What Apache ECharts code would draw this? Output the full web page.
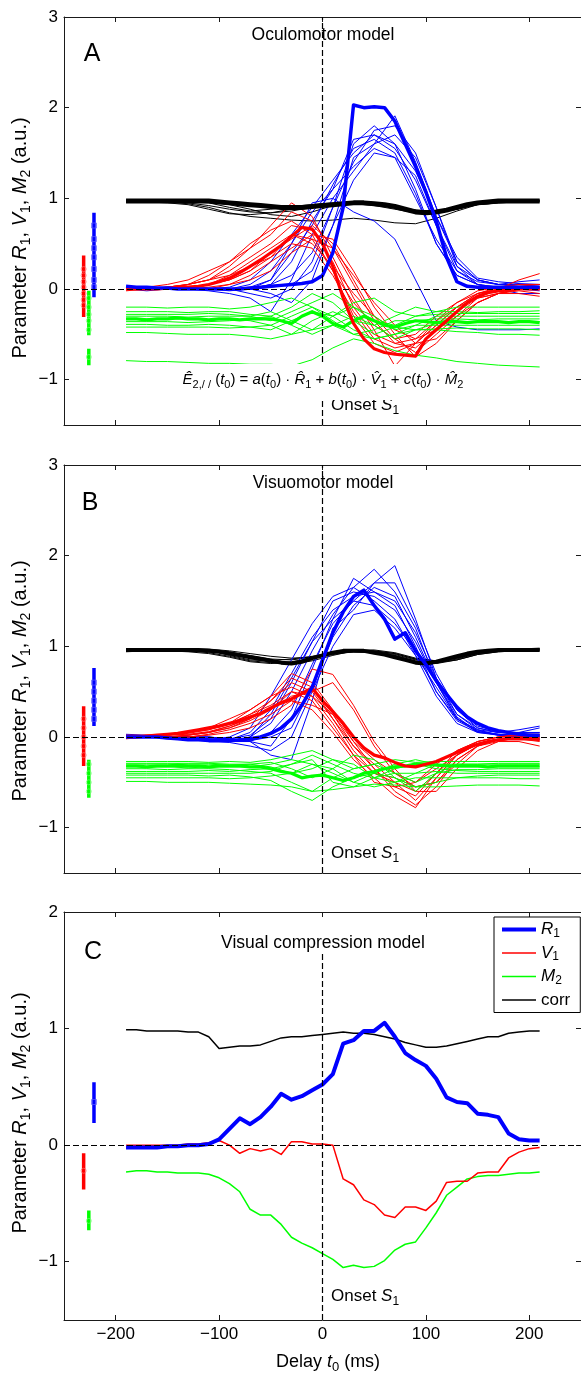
<!DOCTYPE html>
<html><head><meta charset="utf-8">
<script src="https://cdn.jsdelivr.net/npm/echarts@6/dist/echarts.min.js"></script>
<style>html,body{margin:0;padding:0;background:#fff}#c{width:581px;height:1374px}</style>
</head><body><div id="c"></div>
<script>
// ---------- shared x positions (ms) ----------
const T20 = [-190,-170,-150,-130,-110,-90,-70,-50,-30,-10,10,30,50,70,90,110,130,150,170,190,210];
const T10 = [-190,-180,-170,-160,-150,-140,-130,-120,-110,-100,-90,-80,-70,-60,-50,-40,-30,-20,-10,0,10,20,30,40,50,60,70,80,90,100,110,120,130,140,150,160,170,180,190,200,210];
const X_TICKS = [-200,-100,0,100,200];
const Y_TICKS_AB = [-1,0,1,2,3];
const Y_TICKS_C = [-1,0,1,2];

// ---------- Panel A : Oculomotor model ----------
const A_blueThin = [
 [0,0,0,0,0,0.02,0.1,0.3,0.6,0.9,1.2,1.5,1.7,1.6,1.1,0.5,0.15,0.05,0.02,0.01,0],
 [0.02,0,0,0,0,0,0.05,0.2,0.5,0.85,1.1,1.35,1.55,1.45,1.0,0.55,0.2,0.08,0.05,0.03,0.02],
 [0,0,0,0,0,0,0,0.05,0.15,0.4,0.9,1.4,1.75,1.8,1.5,0.9,0.3,0.1,0.05,0.05,0.03],
 [0,-0.02,0,0,-0.02,-0.05,-0.1,-0.25,0.1,0.6,1.0,1.3,1.6,1.91,1.4,0.8,0.3,0.1,0.05,0.05,0.05],
 [0.02,0,0,0,0,0,0,0.05,0.3,0.75,1.1,1.65,1.7,1.55,1.2,0.7,0.25,0.1,0.05,0.08,0.1],
 [0,0,0,0,0,0,-0.05,-0.1,0,0.3,0.9,1.6,1.8,1.6,1.3,0.8,0.35,0.12,0.08,0.06,0.05],
 [0,0,0,0,0,-0.02,0,0.1,0.5,0.95,1.0,0.85,0.75,0.55,0.1,-0.35,-0.42,-0.45,-0.45,-0.45,-0.44],
 [0,0,0,0,0,0,0,0.02,0.05,0.2,0.7,1.45,1.6,1.7,1.45,0.9,0.25,0.05,0,-0.05,-0.05],
 [0,0,0,0,0,0,0.02,0.1,0.4,0.7,1.15,1.55,1.65,1.5,1.05,0.5,0.15,0.05,0.02,0.02,0],
 [0,0,0,0,0,0,0,-0.05,-0.15,0.1,0.7,1.2,1.5,1.45,1.25,0.7,0.2,0.05,0,0,-0.02]
];
const A_redThin = [
 [0,0,0.02,0.05,0.1,0.2,0.35,0.5,0.7,0.65,0.3,-0.2,-0.5,-0.6,-0.55,-0.35,-0.2,-0.05,0.02,0.05,0.05],
 [0,0,0,0,0.05,0.15,0.3,0.45,0.6,0.55,0.2,-0.15,-0.4,-0.55,-0.5,-0.3,-0.15,-0.05,0,0.02,0.02],
 [0.02,0.02,0.05,0.1,0.2,0.3,0.45,0.6,0.85,0.75,0.45,0.05,-0.35,-0.6,-0.65,-0.45,-0.25,-0.1,0,0.1,0.17],
 [0,0,0,0.02,0.05,0.1,0.2,0.4,0.55,0.7,0.5,0.1,-0.3,-0.55,-0.7,-0.5,-0.3,-0.1,-0.05,-0.05,-0.08],
 [-0.02,0,0,0.05,0.1,0.15,0.25,0.35,0.5,0.45,0.15,-0.25,-0.55,-0.65,-0.6,-0.4,-0.2,-0.05,0,0,0],
 [0,0,0.02,0.05,0.1,0.25,0.45,0.7,0.95,0.8,0.35,-0.1,-0.45,-0.85,-0.6,-0.35,-0.15,-0.02,0.02,0.03,0.05],
 [0,0,0,0,0.02,0.05,0.15,0.3,0.45,0.6,0.55,0.2,-0.2,-0.5,-0.75,-0.6,-0.35,-0.15,-0.05,0,0.02],
 [0,0,0,0.02,0.05,0.1,0.2,0.35,0.6,0.5,0.25,-0.05,-0.3,-0.45,-0.55,-0.45,-0.3,-0.15,-0.05,-0.02,-0.05],
 [0.02,0,0.02,0.05,0.15,0.3,0.5,0.65,0.75,0.6,0.2,-0.3,-0.6,-0.7,-0.6,-0.4,-0.2,-0.1,-0.05,0,0.02],
 [0,0,0,0,0,0.05,0.1,0.2,0.4,0.55,0.45,0.15,-0.15,-0.4,-0.6,-0.55,-0.35,-0.15,-0.05,0,0]
];
const A_greenThin = [
 [-0.2,-0.2,-0.21,-0.2,-0.2,-0.22,-0.2,-0.15,-0.1,-0.2,-0.3,-0.15,-0.1,-0.25,-0.3,-0.25,-0.2,-0.2,-0.2,-0.2,-0.2],
 [-0.25,-0.25,-0.25,-0.26,-0.25,-0.25,-0.28,-0.3,-0.2,-0.05,-0.15,-0.35,-0.4,-0.3,-0.2,-0.25,-0.25,-0.26,-0.25,-0.25,-0.24],
 [-0.3,-0.3,-0.3,-0.31,-0.3,-0.3,-0.3,-0.25,-0.35,-0.45,-0.3,-0.2,-0.3,-0.45,-0.4,-0.3,-0.3,-0.3,-0.3,-0.3,-0.3],
 [-0.33,-0.33,-0.33,-0.33,-0.34,-0.33,-0.35,-0.4,-0.3,-0.2,-0.35,-0.5,-0.45,-0.35,-0.35,-0.33,-0.33,-0.34,-0.33,-0.33,-0.33],
 [-0.36,-0.36,-0.36,-0.37,-0.36,-0.35,-0.33,-0.3,-0.4,-0.5,-0.4,-0.3,-0.4,-0.55,-0.45,-0.38,-0.37,-0.36,-0.36,-0.36,-0.36],
 [-0.39,-0.39,-0.4,-0.4,-0.39,-0.4,-0.42,-0.45,-0.35,-0.25,-0.3,-0.45,-0.55,-0.5,-0.4,-0.4,-0.4,-0.4,-0.4,-0.4,-0.4],
 [-0.42,-0.42,-0.42,-0.42,-0.42,-0.43,-0.42,-0.4,-0.5,-0.35,-0.25,-0.35,-0.5,-0.42,-0.45,-0.44,-0.43,-0.44,-0.44,-0.44,-0.45],
 [-0.48,-0.48,-0.49,-0.5,-0.5,-0.5,-0.52,-0.55,-0.5,-0.45,-0.4,-0.5,-0.55,-0.5,-0.45,-0.45,-0.47,-0.48,-0.5,-0.5,-0.51],
 [-0.79,-0.8,-0.8,-0.81,-0.82,-0.82,-0.83,-0.83,-0.85,-0.78,-0.65,-0.55,-0.6,-0.68,-0.73,-0.76,-0.8,-0.82,-0.84,-0.85,-0.86],
 [-0.28,-0.28,-0.28,-0.28,-0.27,-0.28,-0.3,-0.35,-0.25,-0.15,-0.05,-0.2,-0.35,-0.4,-0.3,-0.28,-0.27,-0.27,-0.27,-0.27,-0.27]
];
const A_blackThin = [
 [0.97,0.97,0.96,0.95,0.92,0.88,0.85,0.84,0.86,0.9,0.93,0.94,0.93,0.9,0.86,0.85,0.9,0.95,0.96,0.97,0.97],
 [0.98,0.98,0.97,0.97,0.96,0.93,0.88,0.82,0.8,0.85,0.92,0.95,0.93,0.9,0.86,0.84,0.88,0.94,0.96,0.97,0.98],
 [0.96,0.96,0.96,0.94,0.9,0.84,0.8,0.78,0.76,0.75,0.76,0.78,0.76,0.73,0.72,0.78,0.86,0.93,0.95,0.96,0.96],
 [0.97,0.97,0.97,0.96,0.95,0.9,0.86,0.88,0.91,0.93,0.95,0.95,0.94,0.91,0.87,0.86,0.89,0.94,0.96,0.97,0.97],
 [0.96,0.96,0.95,0.93,0.88,0.83,0.82,0.84,0.88,0.92,0.94,0.94,0.92,0.88,0.84,0.84,0.88,0.93,0.95,0.96,0.97],
 [0.98,0.98,0.98,0.97,0.97,0.95,0.92,0.9,0.9,0.91,0.93,0.95,0.94,0.91,0.87,0.85,0.88,0.94,0.97,0.98,0.98]
];
const A_blueThick = [0.03,0.02,0.02,0.01,0.01,0,0,0,0,0, 0,0,0.01,0.02,0.03,0.04,0.05,0.06,0.08,0.15, 0.4,0.9,2.03,2.0,2.01,2.0,1.85,1.6,1.35,1.07, 0.75,0.35,0.08,0.03,0.02,0.02,0.02,0.02,0.02,0.02,0.02];
const A_redThick = [0,0,0,0,0.01,0.02,0.02,0.03,0.05,0.08, 0.12,0.18,0.25,0.32,0.4,0.48,0.58,0.68,0.66,0.5, 0.25,-0.1,-0.38,-0.55,-0.66,-0.7,-0.72,-0.73,-0.74,-0.55, -0.45,-0.35,-0.25,-0.15,-0.08,-0.04,-0.02,-0.01,0,0,0];
const A_greenThick = [-0.33,-0.33,-0.34,-0.33,-0.33,-0.32,-0.33,-0.33,-0.34,-0.33, -0.33,-0.34,-0.33,-0.33,-0.33,-0.35,-0.38,-0.3,-0.25,-0.3, -0.38,-0.42,-0.35,-0.3,-0.35,-0.4,-0.42,-0.38,-0.35,-0.36, -0.37,-0.36,-0.36,-0.37,-0.36,-0.36,-0.36,-0.37,-0.36,-0.36,-0.37];
const A_blackThick = [0.97,0.97,0.97,0.97,0.97,0.97,0.97,0.97,0.97,0.96, 0.95,0.94,0.93,0.92,0.91,0.9,0.9,0.9,0.91,0.92, 0.93,0.94,0.95,0.95,0.94,0.93,0.91,0.88,0.85,0.84, 0.85,0.87,0.9,0.93,0.95,0.96,0.97,0.97,0.97,0.97,0.97];

// ---------- Panel B : Visuomotor model ----------
const B_blueThin = [
 [0,0,0,0,-0.02,-0.03,0.05,0.3,0.7,1.1,1.4,1.55,1.6,1.45,1.0,0.5,0.2,0.05,0.02,0,0],
 [0.02,0,0,-0.02,-0.03,-0.05,0,0.15,0.5,0.95,1.35,1.65,1.85,1.6,1.2,0.6,0.25,0.1,0.05,0.05,0.05],
 [0,0,0,0,0,-0.02,-0.05,-0.2,-0.25,0.4,1.2,1.4,1.7,1.89,1.3,0.65,0.25,0.08,0.02,0,-0.02],
 [0,0,-0.02,-0.03,-0.03,0,0.1,0.45,0.85,1.25,1.55,1.65,1.5,1.3,0.9,0.45,0.15,0.05,0.03,0.02,0.02],
 [0.02,0,0,0,-0.02,-0.05,-0.05,0.05,0.3,0.8,1.25,1.5,1.7,1.7,1.25,0.7,0.3,0.1,0.05,0.05,0.1],
 [0,0,0,-0.02,-0.04,-0.06,-0.1,-0.15,0,0.5,1.0,1.35,1.4,1.2,0.9,0.55,0.2,0.08,0.05,0.08,0.12],
 [0,0,0,0,-0.02,-0.02,0.02,0.2,0.6,1.05,1.5,1.6,1.55,1.4,1.05,0.6,0.22,0.06,0.02,0,-0.03],
 [0,0,0,0,0,-0.03,-0.05,-0.1,0.2,0.75,1.3,1.75,1.6,1.5,1.15,0.65,0.3,0.12,0.06,0.04,0.05],
 [0,0,0,0,-0.03,-0.05,0,0.25,0.65,1.05,1.3,1.5,1.45,1.25,0.95,0.5,0.18,0.06,0.03,0.03,0.03],
 [0.03,0.02,0,0,0,-0.02,-0.04,0,0.1,0.55,1.1,1.45,1.65,1.55,1.1,0.6,0.2,0.07,0.03,0.01,0]
];
const B_redThin = [
 [0,0,0.02,0.05,0.1,0.15,0.25,0.35,0.5,0.4,0.1,-0.2,-0.4,-0.5,-0.6,-0.4,-0.2,-0.05,0,0.02,0.02],
 [-0.02,0,0,0.02,0.05,0.1,0.2,0.4,0.65,0.55,0.2,-0.1,-0.3,-0.5,-0.7,-0.45,-0.2,-0.08,-0.03,-0.02,-0.05],
 [0,0,0,0.02,0.05,0.12,0.22,0.3,0.45,0.5,0.6,0.3,-0.1,-0.4,-0.55,-0.5,-0.3,-0.1,-0.03,0,0.02],
 [0,0.02,0.03,0.05,0.08,0.15,0.3,0.45,0.7,0.6,0.3,-0.05,-0.35,-0.55,-0.65,-0.4,-0.15,-0.05,0,0,-0.02],
 [0,0,0,0,0.03,0.08,0.15,0.25,0.4,0.35,0.25,-0.1,-0.35,-0.6,-0.75,-0.55,-0.25,-0.1,-0.05,-0.05,-0.1],
 [0.02,0.02,0.03,0.05,0.1,0.2,0.3,0.45,0.55,0.45,0.15,-0.2,-0.5,-0.55,-0.5,-0.3,-0.15,-0.05,0,0.03,0.03],
 [0,0,0,0,0.02,0.05,0.1,0.2,0.35,0.75,0.69,0.35,-0.05,-0.35,-0.6,-0.6,-0.35,-0.15,-0.05,0,0],
 [0,0,0.02,0.03,0.06,0.12,0.2,0.32,0.4,0.3,0.05,-0.25,-0.45,-0.65,-0.78,-0.45,-0.2,-0.08,-0.03,-0.02,-0.04],
 [0,0,0,0.02,0.05,0.1,0.18,0.3,0.5,0.45,0.25,-0.05,-0.25,-0.4,-0.5,-0.35,-0.2,-0.07,-0.02,0,0.01],
 [0.01,0.01,0.02,0.04,0.08,0.14,0.25,0.4,0.6,0.5,0.2,-0.15,-0.4,-0.45,-0.55,-0.5,-0.25,-0.1,-0.03,-0.01,-0.03]
];
const B_greenThin = [
 [-0.27,-0.27,-0.27,-0.27,-0.28,-0.27,-0.28,-0.25,-0.2,-0.15,-0.25,-0.35,-0.3,-0.25,-0.28,-0.27,-0.27,-0.27,-0.27,-0.27,-0.27],
 [-0.3,-0.3,-0.3,-0.3,-0.3,-0.31,-0.3,-0.33,-0.4,-0.35,-0.25,-0.3,-0.45,-0.5,-0.4,-0.3,-0.3,-0.3,-0.3,-0.3,-0.3],
 [-0.33,-0.33,-0.33,-0.34,-0.33,-0.33,-0.33,-0.3,-0.25,-0.3,-0.4,-0.5,-0.4,-0.3,-0.25,-0.3,-0.33,-0.33,-0.33,-0.33,-0.33],
 [-0.35,-0.35,-0.36,-0.35,-0.35,-0.36,-0.38,-0.4,-0.5,-0.6,-0.45,-0.35,-0.3,-0.4,-0.5,-0.4,-0.36,-0.36,-0.35,-0.35,-0.35],
 [-0.38,-0.38,-0.38,-0.38,-0.37,-0.38,-0.36,-0.35,-0.3,-0.2,-0.3,-0.4,-0.45,-0.35,-0.3,-0.35,-0.37,-0.38,-0.38,-0.38,-0.38],
 [-0.42,-0.42,-0.42,-0.42,-0.43,-0.42,-0.44,-0.48,-0.6,-0.7,-0.55,-0.45,-0.4,-0.45,-0.55,-0.5,-0.45,-0.43,-0.42,-0.42,-0.42],
 [-0.45,-0.45,-0.45,-0.45,-0.45,-0.46,-0.45,-0.43,-0.4,-0.3,-0.35,-0.5,-0.55,-0.5,-0.45,-0.45,-0.45,-0.45,-0.45,-0.46,-0.46],
 [-0.49,-0.49,-0.5,-0.5,-0.5,-0.51,-0.52,-0.53,-0.55,-0.6,-0.58,-0.55,-0.52,-0.53,-0.55,-0.55,-0.54,-0.53,-0.53,-0.53,-0.54],
 [-0.29,-0.29,-0.29,-0.29,-0.29,-0.3,-0.3,-0.28,-0.35,-0.45,-0.35,-0.2,-0.25,-0.45,-0.6,-0.4,-0.3,-0.3,-0.29,-0.29,-0.29],
 [-0.4,-0.4,-0.4,-0.4,-0.4,-0.4,-0.4,-0.38,-0.3,-0.25,-0.5,-0.55,-0.45,-0.4,-0.4,-0.38,-0.4,-0.4,-0.4,-0.4,-0.4]
];
const B_blackThin = [
 [0.96,0.96,0.96,0.96,0.95,0.92,0.88,0.84,0.82,0.86,0.92,0.96,0.95,0.92,0.86,0.84,0.88,0.93,0.95,0.96,0.96],
 [0.97,0.97,0.97,0.96,0.96,0.94,0.9,0.86,0.85,0.88,0.92,0.94,0.93,0.9,0.84,0.82,0.86,0.92,0.95,0.97,0.97],
 [0.95,0.95,0.95,0.95,0.93,0.89,0.84,0.82,0.8,0.84,0.9,0.95,0.95,0.92,0.86,0.82,0.85,0.91,0.94,0.95,0.95],
 [0.96,0.96,0.96,0.96,0.96,0.9,0.85,0.84,0.86,0.89,0.93,0.95,0.94,0.91,0.85,0.83,0.87,0.92,0.95,0.96,0.97],
 [0.94,0.95,0.95,0.94,0.92,0.88,0.83,0.81,0.83,0.87,0.91,0.94,0.93,0.89,0.83,0.81,0.85,0.91,0.94,0.95,0.96],
 [0.97,0.97,0.97,0.97,0.97,0.95,0.92,0.89,0.87,0.88,0.93,0.96,0.96,0.93,0.87,0.84,0.87,0.93,0.96,0.97,0.98]
];
const B_blueThick = [0,0,0,0,-0.01,-0.02,-0.03,-0.03,-0.04,-0.04, -0.04,-0.03,-0.02,0,0.04,0.1,0.2,0.35,0.55,0.85, 1.15,1.38,1.55,1.62,1.45,1.3,1.08,1.15,0.95,0.8, 0.62,0.47,0.33,0.22,0.15,0.1,0.07,0.05,0.03,0.02,0.02];
const B_redThick = [0,0,0.01,0.02,0.03,0.04,0.06,0.08,0.1,0.12, 0.15,0.18,0.22,0.26,0.32,0.38,0.42,0.48,0.54,0.4, 0.28,0.15,0,-0.12,-0.2,-0.23,-0.28,-0.32,-0.33,-0.3, -0.27,-0.22,-0.17,-0.12,-0.08,-0.05,-0.03,-0.02,-0.02,-0.02,-0.02];
const B_greenThick = [-0.32,-0.32,-0.33,-0.32,-0.32,-0.31,-0.32,-0.32,-0.33,-0.32, -0.32,-0.32,-0.33,-0.33,-0.35,-0.38,-0.4,-0.45,-0.43,-0.42, -0.45,-0.48,-0.45,-0.4,-0.38,-0.35,-0.33,-0.32,-0.3,-0.3, -0.31,-0.32,-0.32,-0.32,-0.32,-0.33,-0.32,-0.32,-0.32,-0.32,-0.32];
const B_blackThick = [0.96,0.96,0.96,0.96,0.96,0.96,0.96,0.96,0.95,0.94, 0.92,0.9,0.88,0.86,0.84,0.82,0.81,0.83,0.87,0.9, 0.93,0.95,0.95,0.95,0.93,0.91,0.88,0.85,0.82,0.81, 0.83,0.86,0.89,0.92,0.94,0.95,0.96,0.96,0.96,0.96,0.96];

// ---------- Panel C : Visual compression model ----------
const C_R1 = [-0.02,-0.02,-0.02,-0.02,-0.01,-0.01,0,0,0.01,0.05, 0.14,0.23,0.18,0.24,0.33,0.44,0.39,0.42,0.47,0.52, 0.61,0.87,0.9,0.98,0.98,1.05,0.93,0.79,0.73,0.68, 0.57,0.41,0.37,0.36,0.27,0.26,0.24,0.1,0.05,0.04,0.04];
const C_V1 = [0,0,0,0,0,0,0.01,0.01,0.02,0.04, 0,-0.07,-0.03,-0.05,-0.03,-0.08,0.03,0.03,0.01,0.01, 0,-0.29,-0.34,-0.47,-0.51,-0.6,-0.62,-0.53,-0.53,-0.56, -0.48,-0.32,-0.31,-0.31,-0.24,-0.23,-0.23,-0.11,-0.06,-0.03,-0.02];
const C_M2 = [-0.23,-0.22,-0.22,-0.23,-0.23,-0.24,-0.24,-0.24,-0.25,-0.28, -0.33,-0.4,-0.55,-0.6,-0.6,-0.68,-0.79,-0.84,-0.88,-0.93, -0.98,-1.05,-1.03,-1.05,-1.04,-0.99,-0.9,-0.85,-0.83,-0.71, -0.58,-0.43,-0.36,-0.29,-0.27,-0.26,-0.26,-0.25,-0.24,-0.24,-0.23];
const C_corr = [0.99,0.99,0.98,0.98,0.98,0.98,0.97,0.97,0.93,0.83, 0.84,0.85,0.85,0.86,0.89,0.92,0.93,0.93,0.94,0.95, 0.96,0.97,0.96,0.96,0.95,0.93,0.91,0.88,0.86,0.84, 0.84,0.85,0.87,0.89,0.91,0.93,0.93,0.96,0.97,0.98,0.98];

// ---------- error bars at the left (x position in ms, [low, high] segments, markers) ----------
const EB_X = {red: -231, green: -226, blue: -221};
const A_eb = {red: [[-0.31,0.37]], green: [[-0.51,-0.02],[-0.84,-0.66]], blue: [[-0.09,0.84]]};
const A_mk = {red: [0.22,0.15,0.08,0.02,-0.05,-0.12,-0.18], green: [-0.1,-0.2,-0.28,-0.35,-0.45,-0.75], blue: [0.7,0.55,0.45,0.35,0.22,0.1,0.02]};
const B_eb = {red: [[-0.32,0.34]], green: [[-0.67,-0.25]], blue: [[0.12,0.76]]};
const B_mk = {red: [0.2,0.1,0,-0.1,-0.2], green: [-0.3,-0.4,-0.5,-0.6], blue: [0.6,0.5,0.4,0.3,0.2]};
const C_eb = {red: [[-0.38,-0.07]], green: [[-0.73,-0.56]], blue: [[0.19,0.54]]};
const C_mk = {red: [-0.22], green: [-0.65], blue: [0.37]};

// ---------- styling / layout ----------
const FONT = '"Liberation Sans", Arial, Helvetica, sans-serif';
const COL = {blue: '#0000ff', red: '#ff0000', green: '#00ff00', black: '#000000'};
const MK_COL = {blue: 'rgba(90,90,255,0.9)', red: 'rgba(255,110,110,0.9)', green: 'rgba(110,255,110,0.9)'};
const GRID_TOPS = [17, 465, 912];
const Y_RANGE = [[-1.5,3],[-1.5,3],[-1.5,2]];
const Y_TICKS = [Y_TICKS_AB, Y_TICKS_AB, Y_TICKS_C];
const AX = '#1a1a1a';
const fmt = v => (v < 0 ? '\u2212' + Math.abs(v) : String(v));

const grid = GRID_TOPS.map(t => ({left: 64, top: t, width: 520, height: 408}));
const xAxis = [], yAxis = [];
for (let g = 0; g < 3; g++) {
  xAxis.push({gridIndex: g, type: 'value', min: -250, max: 250, position: 'bottom',
    axisLine: {show: true, onZero: false, lineStyle: {color: AX, width: 1}},
    axisTick: {show: true, inside: true, length: 5, customValues: X_TICKS, lineStyle: {color: AX}},
    axisLabel: {show: g === 2, customValues: X_TICKS, formatter: fmt, fontSize: 17, color: '#000', margin: 6, fontFamily: FONT},
    splitLine: {show: false}});
  yAxis.push({gridIndex: g, type: 'value', min: Y_RANGE[g][0], max: Y_RANGE[g][1], position: 'left',
    axisLine: {show: true, onZero: false, lineStyle: {color: AX, width: 1}},
    axisTick: {show: true, inside: true, length: 5, customValues: Y_TICKS[g], lineStyle: {color: AX}},
    axisLabel: {show: true, customValues: Y_TICKS[g], formatter: fmt, fontSize: 17, color: '#000', margin: 6, fontFamily: FONT},
    splitLine: {show: false}});
}
for (let g = 0; g < 3; g++) {
  xAxis.push({gridIndex: g, type: 'value', min: -250, max: 250, position: 'top',
    axisLine: {show: true, onZero: false, lineStyle: {color: AX, width: 1}},
    axisTick: {show: true, inside: true, length: 5, customValues: X_TICKS, lineStyle: {color: AX}},
    axisLabel: {show: false}, splitLine: {show: false}});
  yAxis.push({gridIndex: g, type: 'value', min: Y_RANGE[g][0], max: Y_RANGE[g][1], position: 'right',
    axisLine: {show: true, onZero: false, lineStyle: {color: AX, width: 1}},
    axisTick: {show: true, inside: true, length: 5, customValues: Y_TICKS[g], lineStyle: {color: AX}},
    axisLabel: {show: false}, splitLine: {show: false}});
}

const series = [];
function line(g, xs, ys, color, width, z, name) {
  const s = {type: 'line', xAxisIndex: g, yAxisIndex: g, data: xs.map((x, i) => [x, ys[i]]),
    symbol: 'none', showSymbol: false, lineStyle: {color: color, width: width, join: 'round'},
    itemStyle: {color: color}, silent: true, animation: false, z: z};
  if (name) s.name = name;
  series.push(s);
}
function errorBars(g, eb, mk) {
  ['red', 'green', 'blue'].forEach(c => {
    eb[c].forEach(seg => line(g, [EB_X[c], EB_X[c]], seg, COL[c], 3.5, 3));
    series.push({type: 'scatter', xAxisIndex: g, yAxisIndex: g, silent: true, animation: false, z: 4,
      symbol: c === 'blue' ? 'rect' : 'circle', symbolSize: 5,
      data: mk[c].map(v => [EB_X[c], v]),
      itemStyle: {color: 'rgba(255,255,255,0)', borderColor: MK_COL[c], borderWidth: 1}});
  });
}
function refLines(g, vData) {
  series.push({type: 'line', xAxisIndex: g, yAxisIndex: g, data: [], silent: true, animation: false, z: 6,
    markLine: {silent: true, symbol: ['none', 'none'], animation: false, label: {show: false},
      lineStyle: {color: '#000', width: 1.2, type: [6, 3]},
      data: [{yAxis: 0}, vData]}});
}
function bundle(g, blueT, redT, greenT, blackT, blueK, redK, greenK, blackK, kWidth) {
  blackT.forEach(a => line(g, T20, a, COL.black, 1, 2));
  blueT.forEach(a => line(g, T20, a, COL.blue, 1, 2));
  redT.forEach(a => line(g, T20, a, COL.red, 1, 2));
  greenT.forEach(a => line(g, T20, a, COL.green, 1, 2));
  line(g, T10, blackK, COL.black, kWidth, 3);
  line(g, T10, greenK, COL.green, 3.2, 3);
  line(g, T10, redK, COL.red, 3.2, 3);
  line(g, T10, blueK, COL.blue, 3.5, 3);
}
bundle(0, A_blueThin, A_redThin, A_greenThin, A_blackThin, A_blueThick, A_redThick, A_greenThick, A_blackThick, 5);
errorBars(0, A_eb, A_mk);
refLines(0, {xAxis: 0});
bundle(1, B_blueThin, B_redThin, B_greenThin, B_blackThin, B_blueThick, B_redThick, B_greenThick, B_blackThick, 4);
errorBars(1, B_eb, B_mk);
refLines(1, {xAxis: 0});
line(2, T10, C_corr, COL.black, 1.5, 3, 'corr');
line(2, T10, C_M2, COL.green, 1.5, 3, 'M2');
line(2, T10, C_V1, COL.red, 1.5, 3, 'V1');
line(2, T10, C_R1, COL.blue, 4, 3, 'R1');
errorBars(2, C_eb, C_mk);
refLines(2, [{coord: [0, -1.5]}, {coord: [0, 1.65]}]);

// ---------- rich text styles ----------
function rich(size) {
  const sub = Math.round(size * 0.7);
  return {
    n: {fontFamily: FONT, fontSize: size, lineHeight: Math.round(size * 1.35), verticalAlign: 'middle', color: '#000'},
    i: {fontFamily: FONT, fontSize: size, fontStyle: 'italic', lineHeight: Math.round(size * 1.35), verticalAlign: 'middle', color: '#000'},
    s: {fontFamily: FONT, fontSize: sub, lineHeight: sub, verticalAlign: 'bottom', color: '#000'}
  };
}
function txt(x, y, text, size, opts) {
  return Object.assign({type: 'text', x: x, y: y, z: 20, silent: true,
    style: Object.assign({text: text, font: size + 'px ' + FONT, fill: '#000', rich: rich(size),
      textAlign: 'center', textVerticalAlign: 'middle'}, (opts && opts.style) || {})},
    (opts && opts.el) || {});
}
const YLABEL = '{n|Parameter }{i|R}{s|1}{n|, }{i|V}{s|1}{n|, }{i|M}{s|2}{n| (a.u.)}';
const ONSET = '{n|Onset }{i|S}{s|1}';
const FORMULA = '{i|\u00CA}{s|2,/ /}{n| (}{i|t}{s|0}{n|) = }{i|a}{n|(}{i|t}{s|0}{n|) \u00B7 }{i|R\u0302}{s|1}{n| + }{i|b}{n|(}{i|t}{s|0}{n|) \u00B7 }{i|V\u0302}{s|1}{n| + }{i|c}{n|(}{i|t}{s|0}{n|) \u00B7 }{i|M\u0302}{s|2}';
const XLABEL = '{n|Delay }{i|t}{s|0}{n| (ms)}';

const graphic = [
  txt(323, 35, '{n|Oculomotor model}', 17.5),
  txt(323, 483, '{n|Visuomotor model}', 17.5),
  txt(323, 943, '{n|Visual compression model}', 17.5),
  txt(92, 54, '{n|A}', 25),
  txt(90, 503, '{n|B}', 25),
  txt(93, 952, '{n|C}', 25),
  txt(331, 405, ONSET, 17, {style: {textAlign: 'left'}}),
  txt(331, 853, ONSET, 17, {style: {textAlign: 'left'}}),
  txt(331, 1296, ONSET, 17, {style: {textAlign: 'left'}}),
  txt(323, 382, FORMULA, 15, {style: {backgroundColor: '#fff', padding: [6, 2, 10, 2]}}),
  txt(20, 238, YLABEL, 20, {el: {rotation: Math.PI / 2}}),
  txt(20, 681, YLABEL, 20, {el: {rotation: Math.PI / 2}}),
  txt(20, 1113, YLABEL, 20, {el: {rotation: Math.PI / 2}}),
  txt(328, 1362, XLABEL, 18)
];

const legendRich = {
  n: {fontFamily: FONT, fontSize: 17, lineHeight: 20, verticalAlign: 'middle', color: '#000'},
  i: {fontFamily: FONT, fontSize: 17, fontStyle: 'italic', lineHeight: 20, verticalAlign: 'middle', color: '#000'},
  s: {fontFamily: FONT, fontSize: 12, lineHeight: 10, verticalAlign: 'bottom', color: '#000'}
};
const LEGEND_TXT = {R1: '{i|R}{s|1}', V1: '{i|V}{s|1}', M2: '{i|M}{s|2}', corr: '{n|corr}'};

const chart = echarts.init(document.getElementById('c'), null, {renderer: 'canvas'});
chart.setOption({
  animation: false,
  backgroundColor: '#fff',
  textStyle: {fontFamily: FONT},
  grid: grid, xAxis: xAxis, yAxis: yAxis, series: series, graphic: graphic,
  legend: {data: [
      {name: 'R1', lineStyle: {width: 4, color: COL.blue}},
      {name: 'V1', lineStyle: {width: 1.5, color: COL.red}},
      {name: 'M2', lineStyle: {width: 1.5, color: COL.green}},
      {name: 'corr', lineStyle: {width: 1.5, color: COL.black}}],
    orient: 'vertical', left: 494, top: 917,
    itemWidth: 34, itemHeight: 14, itemGap: 5, padding: [4, 10, 4, 6],
    itemStyle: {opacity: 0}, lineStyle: {opacity: 1},
    borderColor: '#000', borderWidth: 1, backgroundColor: '#fff', selectedMode: false,
    formatter: name => LEGEND_TXT[name], textStyle: {fontSize: 17, color: '#000', rich: legendRich}}
});
</script>
</body></html>
